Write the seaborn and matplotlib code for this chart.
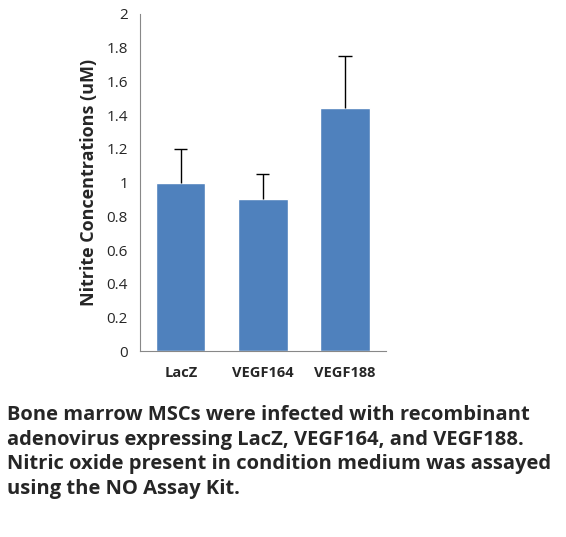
import matplotlib
matplotlib.use("Agg")
import matplotlib.pyplot as plt
import seaborn as sns
import pandas as pd

categories = ["LacZ", "VEGF164", "VEGF188"]
values = [1.0, 0.9, 1.44]
errors = [0.2, 0.15, 0.31]
yticks = [0, 0.2, 0.4, 0.6, 0.8, 1, 1.2, 1.4, 1.6, 1.8, 2]

sns.set_style("white")
plt.rcParams['font.family'] = ['Open Sans', 'DejaVu Sans']
fig = plt.figure(figsize=(5.66, 5.37), dpi=100)
ax = fig.add_axes([0.247, 0.346, 0.435, 0.628])
df = pd.DataFrame({"cat": categories, "val": values})
sns.barplot(data=df, x="cat", y="val", color="#4F81BD", saturation=1, width=0.6, ax=ax)
tops = [v + e for v, e in zip(values, errors)]
ax.vlines(range(3), values, tops, color="black", lw=1)
ax.hlines(tops, [i - 0.08 for i in range(3)], [i + 0.08 for i in range(3)], color="black", lw=1)
ax.set_xlim(-0.5, 2.5)
ax.set_ylim(0, 2)
ax.set_yticks(yticks)
ax.set_yticklabels([f"{t:g}" for t in yticks], fontsize=11)
ax.set_xticks([-0.5, 0.5, 1.5, 2.5])
ax.set_xticklabels([])
for i, c in enumerate(categories):
    ax.text(i, -0.09, c, ha="center", va="top", fontsize=10.5, fontweight="bold")
ax.tick_params(axis="x", direction="out", length=5, color="#888888")
ax.tick_params(axis="y", direction="out", length=5, color="#888888")
ax.set_xlabel("")
ax.set_ylabel("Nitrite Concentrations (uM)", fontsize=13, fontweight="bold", labelpad=6)
for s in ["top", "right"]:
    ax.spines[s].set_visible(False)
for s in ["left", "bottom"]:
    ax.spines[s].set_color("#888888")
fig.text(0.012, 0.245, "Bone marrow MSCs were infected with recombinant\nadenovirus expressing LacZ, VEGF164, and VEGF188.\nNitric oxide present in condition medium was assayed\nusing the NO Assay Kit.",
         ha="left", va="top", fontsize=14.5, fontweight="bold", linespacing=1.3)
fig.savefig("out.png", dpi=100)
